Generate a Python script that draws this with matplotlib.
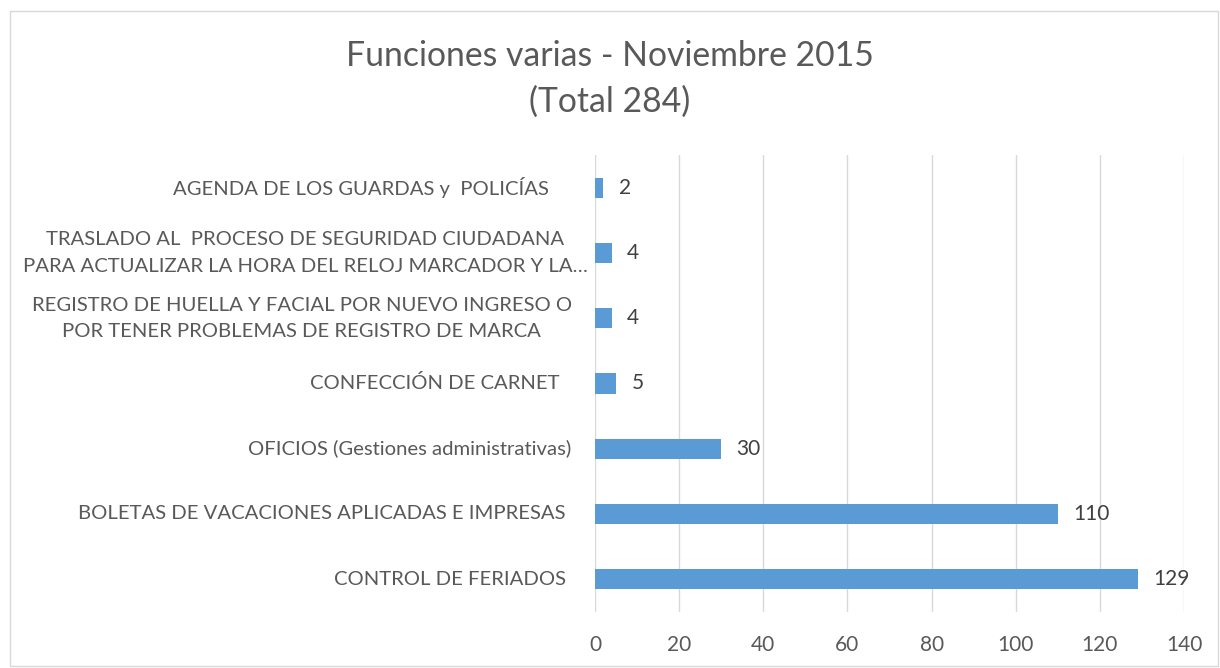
import matplotlib
matplotlib.use("Agg")
import matplotlib.pyplot as plt
from matplotlib.patches import Rectangle

categories = [
    "CONTROL DE FERIADOS",
    "BOLETAS DE VACACIONES APLICADAS E IMPRESAS",
    "OFICIOS (Gestiones administrativas)",
    "CONFECCIÓN DE CARNET",
    "REGISTRO DE HUELLA Y FACIAL POR NUEVO INGRESO O\nPOR TENER PROBLEMAS DE REGISTRO DE MARCA",
    "TRASLADO AL  PROCESO DE SEGURIDAD CIUDADANA\nPARA ACTUALIZAR LA HORA DEL RELOJ MARCADOR Y LA…",
    "AGENDA DE LOS GUARDAS y  POLICÍAS",
]
values = [129, 110, 30, 5, 4, 4, 2]
xticks = [0, 20, 40, 60, 80, 100, 120, 140]
title = "Funciones varias - Noviembre 2015\n(Total 284)"

# label gap from the axis (pixels), style only
label_gaps_px = [29, 29, 24, 35, 23, 7, 46]

plt.rcParams['font.family'] = ['Lato', 'DejaVu Sans']

fig = plt.figure(figsize=(12.2, 6.68), dpi=100)
ax = fig.add_axes([0.4877, 0.0844, 0.9705 - 0.4877, 0.7674 - 0.0844])

ypos = list(range(len(categories)))
ax.barh(ypos, values, height=0.31, color="#5B9BD5", zorder=3)
for y, v in zip(ypos, values):
    ax.annotate(str(v), (v, y), xytext=(11, 0), textcoords="offset points",
                ha="left", va="center", fontsize=15, color="#404040")

ax.set_xlim(0, 140)
ax.set_ylim(-0.5, len(categories) - 0.5)
ax.set_xticks(xticks)
ax.set_xticklabels([str(t) for t in xticks], fontsize=15, color="#595959")
ax.set_yticks(ypos)
ax.set_yticklabels([])
ax.tick_params(axis="both", length=0)
ax.tick_params(axis="x", pad=17)
ax.grid(axis="x", color="#D9D9D9", linewidth=1, zorder=0)
for s in ax.spines.values():
    s.set_visible(False)

for y, lab, gap in zip(ypos, categories, label_gaps_px):
    ax.annotate(lab, xy=(0, y), xycoords=("axes fraction", "data"),
                xytext=(-gap * 0.72, 0), textcoords="offset points",
                ha="right", va="center", multialignment="center",
                fontsize=14.6, color="#595959", linespacing=1.68,
                annotation_clip=False)

fig.text(0.5, 0.882, title, ha="center", va="center", fontsize=24.3,
         color="#595959", linespacing=1.5)

fig.patches.append(Rectangle((0.008, 0.003), 0.99, 0.98, transform=fig.transFigure,
                             fill=False, edgecolor="#D9D9D9", linewidth=1))

fig.savefig("out.png", dpi=100)
